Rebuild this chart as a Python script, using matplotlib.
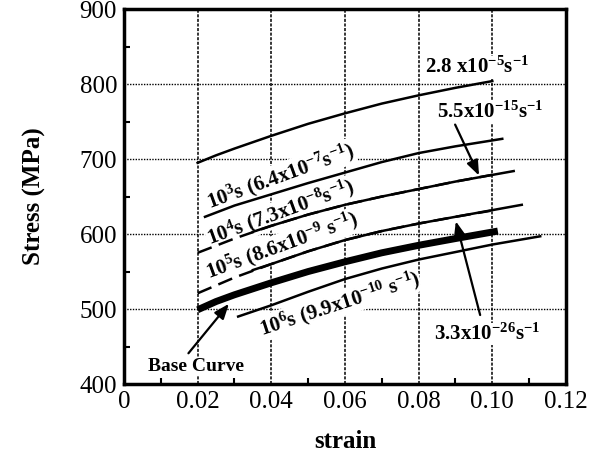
import matplotlib.pyplot as plt

plt.rcParams['font.family'] = 'Liberation Serif'
plt.rcParams['mathtext.fontset'] = 'custom'
plt.rcParams['mathtext.rm'] = 'Liberation Serif:bold'
plt.rcParams['mathtext.it'] = 'Liberation Serif:bold:italic'
plt.rcParams['mathtext.bf'] = 'Liberation Serif:bold'

# curves (strain, stress in MPa)
base_x = [0.02, 0.025, 0.03, 0.04, 0.05, 0.06, 0.07, 0.08, 0.09, 0.1015]
base_y = [499, 510, 519, 535, 550, 563, 575, 585, 594, 604]

r28_x = [0.02, 0.025, 0.03, 0.04, 0.05, 0.06, 0.07, 0.08, 0.09, 0.10]
r28_y = [695, 705, 714, 731, 747, 761, 774, 785, 795, 804]

t3_x = [0.022, 0.03, 0.04, 0.05, 0.06, 0.07, 0.08, 0.09, 0.1027]
t3_y = [623, 638, 653, 668, 682, 696, 708, 717, 727]

t4_x = [0.02, 0.03, 0.04, 0.05, 0.06, 0.07, 0.08, 0.09, 0.10]
t4_y = [575, 594, 611, 626, 639, 650, 660, 670, 679]

r55_x = [0.035, 0.04, 0.05, 0.06, 0.07, 0.08, 0.09, 0.1058]
r55_y = [603, 611, 626, 639, 650, 660, 670, 684]

t5_x = [0.02, 0.03, 0.04, 0.05, 0.06, 0.07, 0.08, 0.09, 0.0995]
t5_y = [521, 542, 560, 577, 592, 604, 614, 623, 631]

r33_x = [0.035, 0.04, 0.05, 0.06, 0.07, 0.08, 0.09, 0.108]
r33_y = [552, 560, 577, 592, 604, 614, 623, 639]

t6_x = [0.031, 0.04, 0.05, 0.06, 0.07, 0.08, 0.09, 0.10, 0.113]
t6_y = [490, 505, 523, 540, 554, 566, 576, 586, 597]

x_ticks = [0, 0.02, 0.04, 0.06, 0.08, 0.10, 0.12]
x_tick_labels = ['0', '0.02', '0.04', '0.06', '0.08', '0.10', '0.12']
y_ticks = [400, 500, 600, 700, 800, 900]

fig = plt.figure(figsize=(6.03, 4.55), dpi=100)
ax = fig.add_axes([0.2056, 0.156, 0.733, 0.824])

ax.set_xlim(0, 0.12)
ax.set_ylim(400, 900)
ax.set_xticks(x_ticks)
ax.set_xticklabels(x_tick_labels)
ax.set_yticks(y_ticks)
ax.set_xticks([0.01, 0.03, 0.05, 0.07, 0.09, 0.11], minor=True)
ax.set_yticks([450, 550, 650, 750, 850], minor=True)
ax.tick_params(which='both', direction='in', labelsize=18, width=1.5)
ax.tick_params(which='major', length=0, pad=5)
ax.tick_params(which='minor', length=4)
for s in ax.spines.values():
    s.set_linewidth(2.5)

for gx in [0.02, 0.04, 0.06, 0.08, 0.10]:
    ax.axvline(gx, color='black', lw=1.1, ls=(0, (2, 1)), zorder=1)
for gy in [500, 600, 700, 800]:
    ax.axhline(gy, color='black', lw=1.0, ls=(0, (1, 1)), zorder=1)

ax.plot(r28_x, r28_y, color='black', lw=1.8, zorder=3)
ax.plot(t3_x, t3_y, color='black', lw=1.8, zorder=3)
ax.plot(t4_x, t4_y, color='black', lw=1.8, ls=(0, (6, 3)), zorder=3)
ax.plot(r55_x, r55_y, color='black', lw=1.8, zorder=3)
ax.plot(t5_x, t5_y, color='black', lw=1.8, ls=(0, (6, 3)), zorder=3)
ax.plot(r33_x, r33_y, color='black', lw=1.8, zorder=3)
ax.plot(base_x, base_y, color='black', lw=5, zorder=3, solid_capstyle='butt')
ax.plot(t6_x, t6_y, color='black', lw=1.8, zorder=3)

bbox = dict(facecolor='white', edgecolor='none', pad=0.5)
lab = dict(fontsize=15, fontweight='bold', ha='center', va='center',
           rotation_mode='anchor', zorder=2, bbox=bbox)

ax.text(0.0425, 677, r'10$^{3}$s (6.4x10$^{-7}$s$^{-1}$)', rotation=20, **lab)
ax.text(0.0425, 628, r'10$^{4}$s (7.3x10$^{-8}$s$^{-1}$)', rotation=20, **lab)
ax.text(0.043, 584, r'10$^{5}$s (8.6x10$^{-9}$ s$^{-1}$)', rotation=20, **lab)
ax.text(0.0585, 507, r'10$^{6}$s (9.9x10$^{-10}$ s$^{-1}$)', rotation=18, **lab)

ax.text(0.096, 822, r'2.8 x10$^{-5}$s$^{-1}$', fontsize=15, fontweight='bold',
        ha='center', va='center', zorder=2, bbox=bbox)
ax.text(0.0995, 762, r'5.5x10$^{-15}$s$^{-1}$', fontsize=15, fontweight='bold',
        ha='center', va='center', zorder=2, bbox=bbox)
ax.text(0.0985, 467, r'3.3x10$^{-26}$s$^{-1}$', fontsize=15, fontweight='bold',
        ha='center', va='center', zorder=2, bbox=bbox)
ax.text(0.0195, 423, 'Base Curve', fontsize=14, fontweight='bold',
        ha='center', va='center', zorder=2, bbox=bbox)

arrow = dict(arrowstyle='-|>,head_length=0.9,head_width=0.35', color='black', lw=1.6,
             shrinkA=0, shrinkB=0)
ax.annotate('', xy=(0.0964, 678), xytext=(0.0899, 746), arrowprops=arrow, zorder=4)
ax.annotate('', xy=(0.0901, 617), xytext=(0.0967, 492), arrowprops=arrow, zorder=4)
ax.annotate('', xy=(0.0285, 507), xytext=(0.0175, 441), arrowprops=arrow, zorder=4)

ax.set_xlabel('strain', fontsize=18, fontweight='bold', labelpad=12)
ax.set_ylabel('Stress (MPa)', fontsize=18, fontweight='bold', labelpad=24)

fig.savefig('out.png', dpi=100)
